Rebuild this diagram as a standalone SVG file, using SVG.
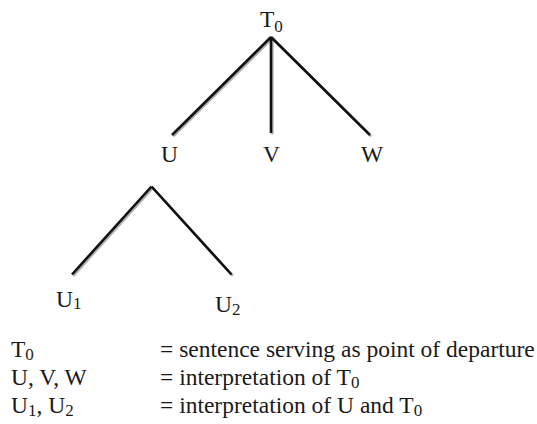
<svg xmlns="http://www.w3.org/2000/svg" width="537" height="424" viewBox="0 0 537 424">
<style>
text{font-family:"Liberation Serif","Times New Roman",serif;font-size:23.5px;fill:#1a1a1a}
.sub{font-size:17px}
.ln{stroke:#111;stroke-width:2.6;fill:none;stroke-linecap:butt}
.sh{stroke:#b0b0b0;stroke-width:2.6;fill:none}
</style>
<rect width="537" height="424" fill="#fff"/>
<g id="connectors">
<g class="sh" transform="translate(1.3,1.3)">
<path d="M271,37 L172,135 M271,37 L271,133 M271,37 L370,135"/>
<path d="M151.5,186.5 L72,274.5 M151.5,186.5 L231.5,274.5"/>
</g>
<g class="ln">
<path d="M271,37 L172,135 M271,37 L271,133 M271,37 L370,135"/>
<path d="M151.5,186.5 L72,274.5 M151.5,186.5 L231.5,274.5"/>
</g>
</g>
<g id="T0"><text x="260" y="27">T<tspan class="sub" dy="5">0</tspan></text></g>
<g id="U"><text x="161" y="162">U</text></g>
<g id="V"><text x="263" y="162">V</text></g>
<g id="W"><text x="361" y="162">W</text></g>
<g id="U1"><text x="56" y="307">U<tspan class="sub" dy="2">1</tspan></text></g>
<g id="U2"><text x="215" y="312">U<tspan class="sub" dy="3">2</tspan></text></g>
<g id="legend">
<text x="11" y="357">T<tspan class="sub" dy="3">0</tspan></text>
<text x="160" y="357">= sentence serving as point of departure</text>
<text x="11" y="385">U, V, W</text>
<text x="160" y="385">= interpretation of T<tspan class="sub" dy="3">0</tspan></text>
<text x="11" y="413">U<tspan class="sub" dy="3">1</tspan><tspan dy="-3">, U</tspan><tspan class="sub" dy="3">2</tspan></text>
<text x="160" y="413">= interpretation of U and T<tspan class="sub" dy="3">0</tspan></text>
</g>
</svg>
